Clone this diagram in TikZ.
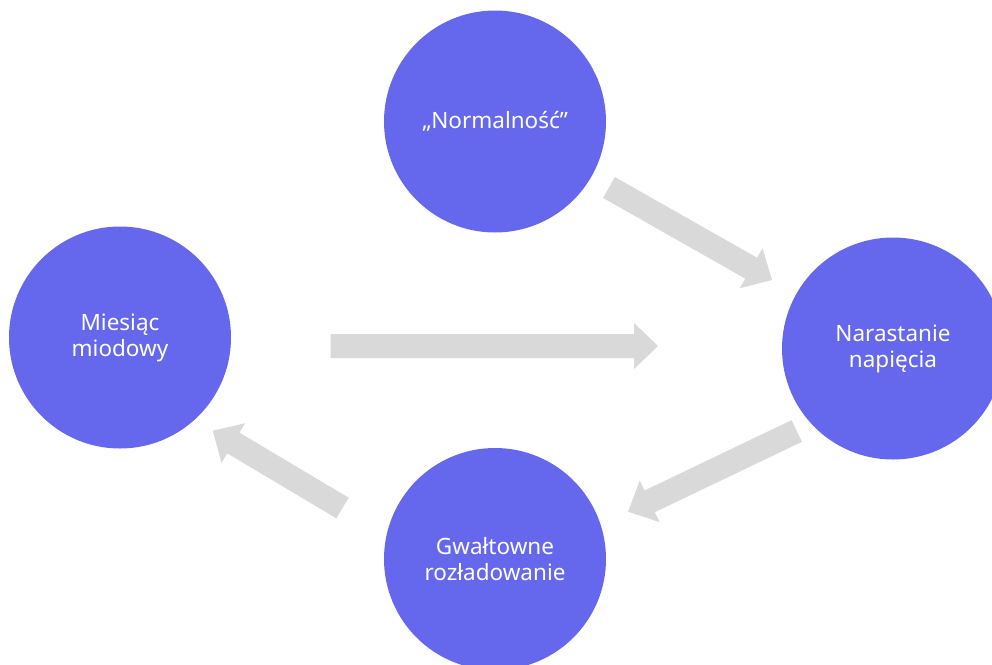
\documentclass[tikz,border=0pt]{standalone}
\usepackage{fontspec}
\setmainfont{Noto Sans}
\usetikzlibrary{calc}
\definecolor{circfill}{RGB}{101,103,236}
\definecolor{arrowgray}{RGB}{217,217,217}
\newcommand\blockarrow[2]{%
  \coordinate (hb) at ($(#2)!24pt!(#1)$);
  \fill[arrowgray] ($(#1)!12pt!90:(#2)$) -- ($(hb)!12pt!-90:(#1)$) -- ($(hb)!23pt!-90:(#1)$) -- (#2)
    -- ($(hb)!23pt!90:(#1)$) -- ($(hb)!12pt!90:(#1)$) -- ($(#1)!12pt!-90:(#2)$) -- cycle;}
\tikzset{
  phase/.style={circle, fill=circfill, draw=none, minimum size=222pt, inner sep=0pt,
    text=white, align=center, font=\fontsize{22.5}{26}\selectfont}
}
\begin{document}
\begin{tikzpicture}[x=1pt,y=-1pt]
\clip (0,0) rectangle (992,664);
\fill[white] (0,0) rectangle (992,664);
\node[phase] (norm) at (495,121.5) {„Normalność”};
\node[phase] (mies) at (120,337.5) {Miesiąc\\miodowy};
\node[phase] (nar) at (893,348.5) {Narastanie\\napięcia};
\node[phase] (gwal) at (495,559) {Gwałtowne\\rozładowanie};
\coordinate (a1s) at (609,187.5);
\coordinate (a1e) at (772,280);
\coordinate (a2s) at (330.7,346);
\coordinate (a2e) at (658,346);
\coordinate (a3s) at (342.5,508);
\coordinate (a3e) at (212.7,430.7);
\coordinate (a4s) at (796.7,431);
\coordinate (a4e) at (628,511.7);
\blockarrow{a1s}{a1e}
\blockarrow{a2s}{a2e}
\blockarrow{a3s}{a3e}
\blockarrow{a4s}{a4e}
\end{tikzpicture}
\end{document}
